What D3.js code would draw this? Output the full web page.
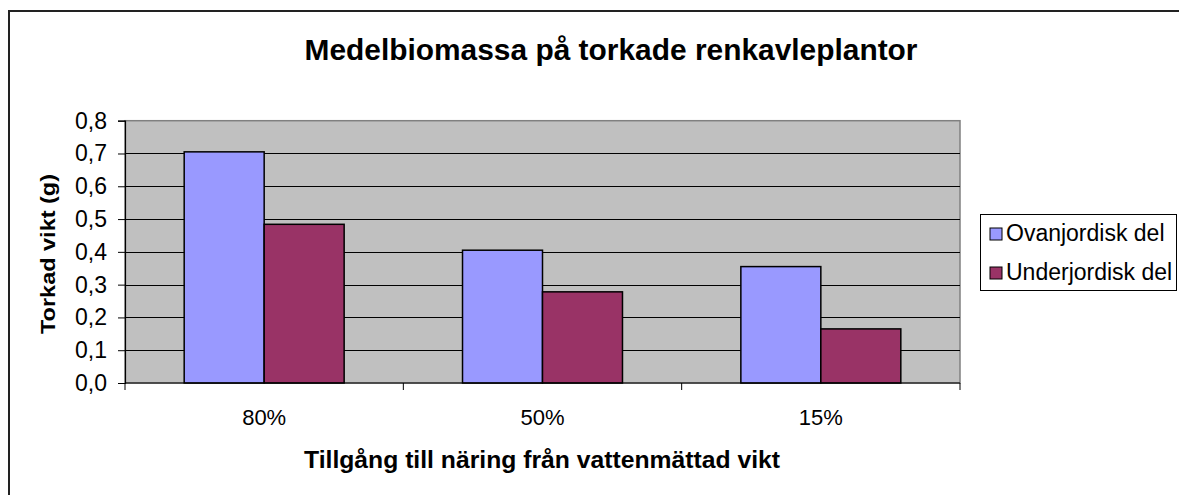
<!DOCTYPE html>
<html>
<head>
<meta charset="utf-8">
<script src="https://cdn.jsdelivr.net/npm/d3@7"></script>
<style>
  body { margin: 0; background: #fff; }
  svg { display: block; font-family: "Liberation Sans", Arial, sans-serif; }
</style>
</head>
<body>
<div id="chart-container"></div>
<script>
// data
const categories = ["80%", "50%", "15%"];
const seriesNames = ["Ovanjordisk del", "Underjordisk del"];
const ovanjordisk = [0.705, 0.405, 0.355];
const underjordisk = [0.484, 0.278, 0.165];
const yTickValues = [0, 0.1, 0.2, 0.3, 0.4, 0.5, 0.6, 0.7, 0.8];
const seriesColors = ["#9999ff", "#993366"];

const width = 1179;
const height = 495;
const plot = { left: 125, right: 960, top: 120.7, bottom: 383 };

const sv = d3.formatLocale({ decimal: ",", thousands: " ", grouping: [3], currency: ["", " kr"] });
const fmt = sv.format(".1f");

const svg = d3.select("#chart-container")
    .append("svg")
    .attr("width", width)
    .attr("height", height);

// outer chart border (right/bottom edges fall outside the picture)
svg.append("rect")
    .attr("x", 9)
    .attr("y", 11)
    .attr("width", 1300)
    .attr("height", 600)
    .attr("fill", "#fff")
    .attr("stroke", "#222")
    .attr("stroke-width", 2);

const x = d3.scaleBand()
    .domain(categories)
    .range([plot.left, plot.right])
    .padding(0);

const xInner = d3.scaleBand()
    .domain(seriesNames)
    .range([0, x.bandwidth()])
    .paddingInner(0)
    .paddingOuter(0.74);

const y = d3.scaleLinear()
    .domain([0, 0.8])
    .range([plot.bottom, plot.top]);

// plot area background
svg.append("rect")
    .attr("x", plot.left)
    .attr("y", plot.top)
    .attr("width", plot.right - plot.left)
    .attr("height", plot.bottom - plot.top)
    .attr("fill", "#c0c0c0")
    .attr("stroke", "#808080")
    .attr("stroke-width", 1.5);

// gridlines
svg.append("g")
    .selectAll("line")
    .data(yTickValues.slice(1, -1))
    .enter()
    .append("line")
    .attr("x1", plot.left)
    .attr("x2", plot.right)
    .attr("y1", d => Math.round(y(d)) + 0.5)
    .attr("y2", d => Math.round(y(d)) + 0.5)
    .attr("stroke", "#000")
    .attr("stroke-width", 1);

// bars
const series = [ovanjordisk, underjordisk];
const groups = svg.append("g")
    .selectAll("g")
    .data(categories)
    .enter()
    .append("g")
    .attr("transform", d => `translate(${x(d)},0)`);

groups.selectAll("rect")
    .data((c, ci) => seriesNames.map((s, si) => ({ s, si, v: series[si][ci] })))
    .enter()
    .append("rect")
    .attr("x", d => xInner(d.s))
    .attr("y", d => y(d.v))
    .attr("width", xInner.bandwidth())
    .attr("height", d => y(0) - y(d.v))
    .attr("fill", d => seriesColors[d.si])
    .attr("stroke", "#000")
    .attr("stroke-width", 1.5);

// y axis
const yAxis = svg.append("g")
    .attr("transform", `translate(${plot.left},0)`)
    .call(d3.axisLeft(y).tickValues(yTickValues).tickFormat(fmt).tickSize(7).tickPadding(11));
yAxis.select(".domain").attr("stroke", "#000").attr("stroke-width", 1.2);
yAxis.selectAll(".tick line").attr("stroke", "#000");
yAxis.selectAll("text")
    .attr("fill", "#000")
    .style("font-size", "23px")
    .style("font-family", "Liberation Sans, Arial, sans-serif");

// x axis: ticks at category boundaries
const xAxisG = svg.append("g");
xAxisG.append("line")
    .attr("x1", plot.left)
    .attr("x2", plot.right)
    .attr("y1", plot.bottom)
    .attr("y2", plot.bottom)
    .attr("stroke", "#000")
    .attr("stroke-width", 1.2);
xAxisG.selectAll(".xtick")
    .data(categories.concat(["end"]))
    .enter()
    .append("line")
    .attr("class", "xtick")
    .attr("x1", (d, i) => i < categories.length ? x(d) : plot.right)
    .attr("x2", (d, i) => i < categories.length ? x(d) : plot.right)
    .attr("y1", plot.bottom)
    .attr("y2", plot.bottom + 7)
    .attr("stroke", "#000");
xAxisG.selectAll(".xlabel")
    .data(categories)
    .enter()
    .append("text")
    .attr("class", "xlabel")
    .attr("x", d => x(d) + x.bandwidth() / 2)
    .attr("y", 425)
    .attr("text-anchor", "middle")
    .style("font-size", "22px")
    .text(d => d);

// titles
svg.append("text")
    .attr("x", 611)
    .attr("y", 60)
    .attr("text-anchor", "middle")
    .attr("textLength", 613)
    .attr("lengthAdjust", "spacingAndGlyphs")
    .style("font-size", "29px")
    .style("font-weight", "bold")
    .text("Medelbiomassa på torkade renkavleplantor");

svg.append("text")
    .attr("x", 542)
    .attr("y", 468)
    .attr("text-anchor", "middle")
    .attr("textLength", 476)
    .attr("lengthAdjust", "spacingAndGlyphs")
    .style("font-size", "23px")
    .style("font-weight", "bold")
    .text("Tillgång till näring från vattenmättad vikt");

svg.append("text")
    .attr("transform", "translate(55,254) rotate(-90)")
    .attr("text-anchor", "middle")
    .attr("textLength", 160)
    .attr("lengthAdjust", "spacingAndGlyphs")
    .style("font-size", "21px")
    .style("font-weight", "bold")
    .text("Torkad vikt (g)");

// legend
const legend = svg.append("g");
legend.append("rect")
    .attr("x", 980.5)
    .attr("y", 214.5)
    .attr("width", 196)
    .attr("height", 76)
    .attr("fill", "#fff")
    .attr("stroke", "#000");

const items = legend.selectAll(".legend")
    .data(seriesNames)
    .enter()
    .append("g")
    .attr("class", "legend")
    .attr("transform", (d, i) => `translate(990,${228 + i * 39})`);

items.append("rect")
    .attr("width", 12)
    .attr("height", 12)
    .attr("fill", (d, i) => seriesColors[i])
    .attr("stroke", "#000")
    .attr("stroke-width", 1);

items.append("text")
    .attr("x", 16)
    .attr("y", 12.5)
    .style("font-size", "23px")
    .text(d => d);
</script>
</body>
</html>
